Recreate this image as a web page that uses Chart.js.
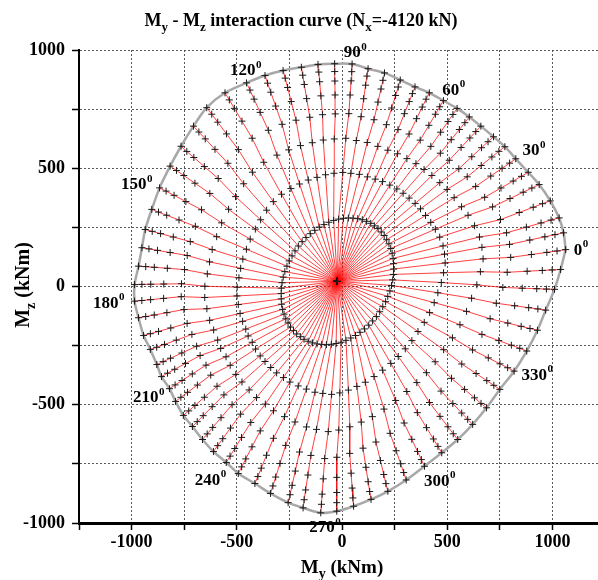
<!DOCTYPE html>
<html>
<head>
<meta charset="utf-8">
<script src="https://cdn.jsdelivr.net/npm/chart.js@4.4.1/dist/chart.umd.min.js"></script>
<style>
  html, body { margin: 0; padding: 0; overflow: hidden; background: #fff; }
  canvas { display: block; }
</style>
</head>
<body>
<canvas id="chart" width="610" height="580"></canvas>
<script>
// My–Mz interaction diagram for a column under Nx = -4120 kN.
// Each path starts at the moment under pure axial load and is followed
// step by step (black crosses) until it reaches the failure surface.

const centre = [-22, 22];            // My, Mz at zero curvature (kNm)

// neutral-axis angle of every path (deg)
const pathAngle = [0,5,10,15,20,25,30,35,40,45,50,55,60,65,70,75,80,85,
  90,95,100,105,110,115,120,125,130,135,140,145,150,155,160,165,170,175,
  180,185,190,195,200,205,210,215,220,225,230,235,240,245,250,255,260,265,
  270,275,280,285,290,295,300,305,310,315,320,325,330,335,340,345,350,355];

// ultimate point of every path (kNm)
const outerMy = [1063,1053,1032,990,937,885,826,774,720,660,605,547,482,415,347,277,202,124,
  48,-35,-114,-193,-280,-366,-454,-556,-643,-706,-765,-817,-867,-904,-935,-951,-967,-986,
  -986,-967,-943,-911,-880,-858,-820,-791,-754,-711,-663,-611,-550,-493,-414,-340,-256,-185,
  -101,-25,55,138,218,305,392,474,550,621,687,750,818,878,929,968,1010,1039];
const outerMz = [156,227,290,362,431,483,540,591,633,678,717,753,786,819,844,873,903,921,
  941,942,939,927,913,892,861,819,756,678,593,509,417,326,241,164,86,8,
  -62,-132,-207,-266,-330,-381,-432,-486,-545,-592,-647,-698,-744,-791,-833,-875,-914,-936,
  -957,-950,-929,-900,-866,-818,-760,-703,-647,-583,-513,-435,-358,-273,-185,-100,-12,72];

// distance of the intermediate steps from the centre (kNm), one row per path
const stepRadius = [
  [272,518,699,830,929,1003,1052],[277,522,702,833,931,1004,1053],[282,524,701,830,927,999,1048],
  [286,521,693,818,912,982,1029],[289,515,681,802,892,960,1005],[292,509,669,785,872,937,981],
  [293,503,658,770,854,917,959],[295,500,650,759,841,903,944],[295,495,641,748,828,888,928],
  [295,490,634,738,816,874,913],[293,486,627,730,807,865,904],[292,482,622,723,799,856,894],
  [289,477,615,715,790,846,884],[286,473,610,710,784,840,878],[282,468,604,703,777,833,870],
  [277,464,602,702,777,833,871],[273,464,604,705,782,839,877],[268,461,602,705,782,840,879],
  [263,461,606,711,790,850,889],[258,457,602,708,788,847,887],[253,454,601,708,788,848,889],
  [248,450,598,706,786,847,887],[245,450,600,709,791,853,894],[241,449,602,714,797,860,901],
  [239,450,606,718,803,866,909],[238,454,613,728,815,880,923],[237,454,613,729,816,881,925],
  [238,451,607,721,806,870,912],[239,448,602,714,797,860,902],[241,448,600,711,794,856,897],
  [245,451,603,713,795,857,899],[248,453,604,714,796,858,899],[253,459,610,719,802,864,905],
  [258,463,613,722,804,865,906],[263,468,619,728,810,872,913],[268,477,630,741,825,887,929],
  [272,481,634,745,829,891,933],[277,481,631,739,821,882,923],[282,482,629,736,816,876,916],
  [286,481,623,727,805,864,903],[289,480,621,723,799,857,895],[292,483,623,724,801,858,896],
  [293,480,618,718,793,849,887],[295,483,621,721,797,853,891],[295,484,623,724,800,857,894],
  [295,483,622,722,797,854,892],[293,483,622,723,799,856,894],[292,483,624,726,802,860,898],
  [289,481,622,725,802,859,898],[286,482,626,731,809,868,907],[282,480,625,730,809,869,908],
  [277,479,628,736,817,878,918],[273,481,633,744,827,889,930],[268,479,634,747,831,895,937],
  [263,479,637,752,838,903,946],[258,472,629,744,829,893,936],[253,463,618,730,814,877,919],
  [248,454,606,716,798,860,902],[245,447,596,704,785,846,886],[241,439,584,690,769,828,868],
  [239,433,575,678,756,814,853],[238,430,571,673,750,808,846],[237,430,571,674,751,809,848],
  [238,431,573,677,754,812,851],[239,434,576,680,758,817,856],[241,438,582,687,766,825,864],
  [245,448,597,705,787,848,888],[248,458,611,723,807,870,912],[253,469,627,743,829,894,937],
  [258,480,642,761,849,916,960],[263,494,663,787,879,948,994],[268,506,681,808,903,975,1022]
];

// direction of the steps seen from the centre (deg): first, second, third step,
// and the direction shared by the remaining steps
const stepDirection = [
  [11.0,8.6,7.8,7.0],[15.6,12.7,11.8,10.8],[20.1,16.6,15.5,14.3],[24.5,21.0,19.8,18.6],
  [28.7,25.3,24.2,23.1],[32.9,29.3,28.1,26.9],[36.9,33.6,32.5,31.4],[41.0,37.8,36.7,35.6],
  [45.0,41.7,40.6,39.5],[49.0,45.9,44.9,43.9],[53.1,50.0,48.9,47.9],[57.1,54.1,53.1,52.1],
  [61.3,58.5,57.5,56.6],[65.5,63.0,62.1,61.3],[69.9,67.4,66.6,65.8],[74.4,72.1,71.4,70.6],
  [79.0,77.0,76.4,75.7],[83.8,82.0,81.4,80.8],[88.7,86.8,86.2,85.6],[93.9,92.0,91.4,90.8],
  [99.3,97.1,96.4,95.7],[104.9,102.4,101.5,100.7],[110.6,107.9,107.0,106.1],[116.5,113.6,112.6,111.6],
  [122.6,119.4,118.3,117.2],[128.8,125.8,124.8,123.8],[135.0,132.1,131.2,130.2],[141.2,138.2,137.2,136.2],
  [147.4,144.5,143.5,142.5],[153.5,150.5,149.5,148.5],[159.4,156.7,155.8,154.9],[165.1,162.6,161.8,161.0],
  [170.7,168.2,167.3,166.5],[176.1,173.2,172.3,171.3],[181.3,178.2,177.1,176.1],[186.2,183.0,181.9,180.8],
  [191.0,187.4,186.2,185.0],[195.6,191.8,190.6,189.3],[200.1,196.4,195.2,194.0],[204.5,200.6,199.3,198.0],
  [208.7,204.9,203.6,202.3],[212.9,208.6,207.1,205.7],[216.9,212.5,211.1,209.6],[221.0,216.4,214.9,213.4],
  [225.0,220.7,219.2,217.8],[229.0,224.6,223.2,221.7],[233.1,229.0,227.6,226.2],[237.1,233.3,232.0,230.7],
  [241.3,237.8,236.6,235.4],[245.5,242.1,241.0,239.9],[249.9,247.2,246.3,245.4],[254.4,252.1,251.3,250.5],
  [259.0,257.2,256.6,256.0],[263.8,261.7,261.0,260.3],[268.7,266.7,266.1,265.4],[273.9,271.4,270.6,269.8],
  [279.3,276.5,275.5,274.6],[284.9,281.8,280.8,279.8],[290.6,287.3,286.2,285.1],[296.5,293.4,292.3,291.3],
  [302.6,299.8,298.8,297.9],[308.8,306.2,305.3,304.4],[315.0,312.3,311.4,310.5],[321.2,318.5,317.6,316.7],
  [327.4,324.7,323.8,322.9],[333.5,331.0,330.2,329.4],[339.4,337.2,336.4,335.7],[345.1,343.2,342.5,341.9],
  [350.7,348.9,348.3,347.7],[356.1,354.2,353.6,353.0],[1.3,359.4,358.7,358.1],[6.2,4.1,3.4,2.7]
];

// paths that carry an angle label
const labelledAngles = [0,30,60,90,120,150,180,210,240,270,300,330];

const xTicksMin = -1250, xTicksMax = 1250, yTicksMin = -1000, yTicksMax = 1000, gridStep = 250, labelStep = 500;

// ---------------------------------------------------------------------------
const DEG = Math.PI / 180;
const serif = "'Liberation Serif', 'Times New Roman', serif";

function pathPoints(i) {
  const [d1, d2, d3, dt] = stepDirection[i];
  const dirs = [d1, d2, d3, dt, dt, dt, dt];
  const pts = [{ x: centre[0], y: centre[1] }];
  stepRadius[i].forEach((r, k) => {
    pts.push({ x: centre[0] + r * Math.cos(dirs[k] * DEG), y: centre[1] + r * Math.sin(dirs[k] * DEG) });
  });
  pts.push({ x: outerMy[i], y: outerMz[i] });
  return pts;
}

const datasets = pathAngle.map((a, i) => ({
  data: pathPoints(i),
  showLine: true,
  borderColor: 'rgba(255,0,0,0.75)',
  borderWidth: 1,
  tension: 0,
  pointStyle: 'cross',
  pointRadius: 3.5,
  pointBorderColor: '#1a1a1a',
  pointBackgroundColor: '#1a1a1a',
  pointBorderWidth: 1
}));

// failure surface through the ultimate points
const surface = outerMy.map((v, i) => ({ x: v, y: outerMz[i] }));
surface.push({ x: outerMy[0], y: outerMz[0] });
datasets.push({
  data: surface,
  showLine: true,
  borderColor: 'rgb(168,168,168)',
  borderWidth: 2.5,
  tension: 0.3,
  pointRadius: 0
});

// text with subscripts: parts = [[text, isSub], ...]
function richWidth(ctx, parts, size) {
  let w = 0;
  parts.forEach(([t, sub]) => {
    ctx.font = `bold ${sub ? Math.round(size * 0.72) : size}px ${serif}`;
    w += ctx.measureText(t).width;
  });
  return w;
}
function drawRich(ctx, parts, cx, baseline, size) {
  let x = cx - richWidth(ctx, parts, size) / 2;
  ctx.textAlign = 'left';
  ctx.textBaseline = 'alphabetic';
  parts.forEach(([t, sub]) => {
    ctx.font = `bold ${sub ? Math.round(size * 0.72) : size}px ${serif}`;
    ctx.fillText(t, x, baseline + (sub ? size * 0.28 : 0));
    x += ctx.measureText(t).width;
  });
}

const labelOffsets = {
  0: [15, 0], 30: [18, -9], 60: [10, -11], 90: [3, -12], 120: [-1, -13], 150: [-23, -4],
  180: [-26, 1], 210: [-21, 8], 240: [-16, 17], 270: [4, 14], 300: [15, 14], 330: [23, 3]
};

const annotations = {
  id: 'annotations',
  afterDraw(chart) {
    const ctx = chart.ctx;
    const xs = chart.scales.x, ys = chart.scales.y;
    ctx.save();
    ctx.fillStyle = '#000';
    drawRich(ctx, [['M', 0], ['y', 1], [' - M', 0], ['z', 1], [' interaction curve (N', 0], ['x', 1], ['=-4120 kN)', 0]], 301, 26, 18);
    drawRich(ctx, [['M', 0], ['y', 1], [' (kNm)', 0]], 342, 573, 19);
    ctx.save();
    ctx.translate(29, 285);
    ctx.rotate(-Math.PI / 2);
    drawRich(ctx, [['M', 0], ['z', 1], [' (kNm)', 0]], 0, 0, 20);
    ctx.restore();

    // angle labels next to the ultimate points
    labelledAngles.forEach(a => {
      const i = pathAngle.indexOf(a);
      const off = labelOffsets[a];
      const px = xs.getPixelForValue(outerMy[i]) + off[0];
      const py = ys.getPixelForValue(outerMz[i]) + off[1];
      ctx.font = `bold 17px ${serif}`;
      const w1 = ctx.measureText(String(a)).width;
      ctx.font = `bold 11px ${serif}`;
      const w2 = ctx.measureText('0').width;
      const x0 = px - (w1 + w2) / 2;
      ctx.textBaseline = 'middle';
      ctx.textAlign = 'left';
      ctx.font = `bold 17px ${serif}`;
      ctx.fillText(String(a), x0, py + 1);
      ctx.font = `bold 11px ${serif}`;
      ctx.fillText('0', x0 + w1 + 0.5, py - 5);
    });
    ctx.restore();
  }
};

const tickFont = { family: serif, size: 18, weight: 'bold' };
const tickLabel = v => (v % labelStep === 0 ? String(v) : '');

new Chart(document.getElementById('chart'), {
  type: 'scatter',
  data: { datasets },
  options: {
    responsive: false,
    animation: false,
    devicePixelRatio: 1,
    events: [],
    layout: { padding: { top: 50, right: 2, left: 0, bottom: 0 } },
    plugins: { legend: { display: false }, tooltip: { enabled: false }, title: { display: false } },
    scales: {
      x: {
        type: 'linear', min: xTicksMin, max: xTicksMax,
        afterFit: s => { s.height = 57; },
        ticks: { stepSize: gridStep, callback: tickLabel, font: tickFont, color: '#000', padding: 2, maxRotation: 0, autoSkip: false },
        grid: { color: 'rgba(70,70,70,0.9)', lineWidth: 1, tickLength: 7, tickColor: '#000', tickWidth: 1.5 },
        border: { color: '#000', width: 3, dash: [2, 2] }
      },
      y: {
        type: 'linear', min: yTicksMin, max: yTicksMax,
        afterFit: s => { s.width = 79; },
        ticks: { stepSize: gridStep, callback: tickLabel, font: tickFont, color: '#000', padding: 7, autoSkip: false },
        grid: { color: 'rgba(70,70,70,0.9)', lineWidth: 1, tickLength: 7, tickColor: '#000', tickWidth: 1.5 },
        border: { color: '#000', width: 2, dash: [2, 2] }
      }
    }
  },
  plugins: [annotations]
});
</script>
</body>
</html>
